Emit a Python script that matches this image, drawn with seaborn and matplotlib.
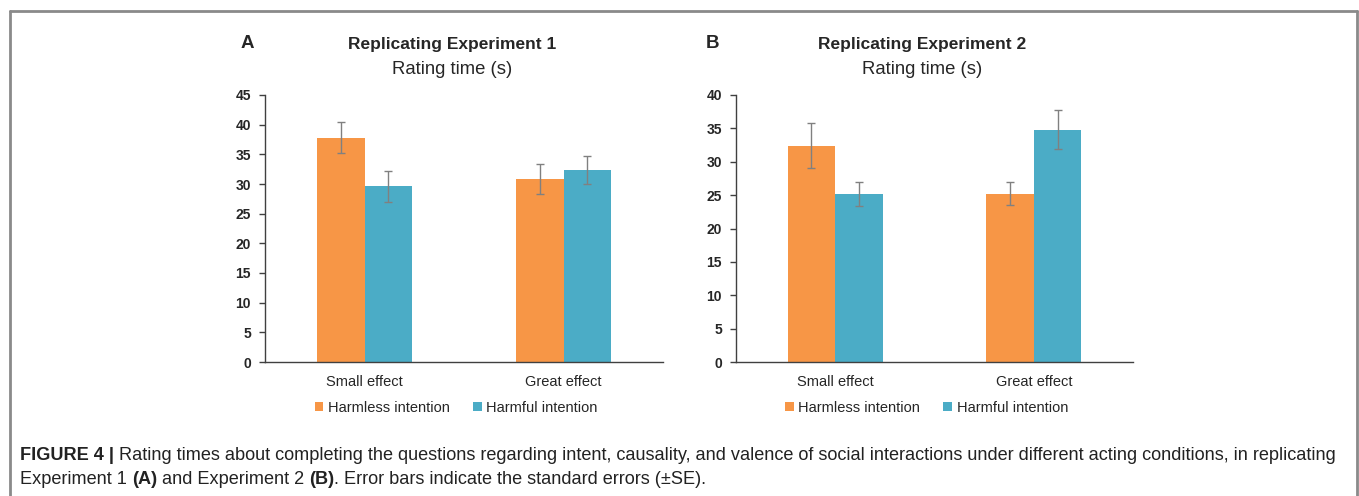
import numpy as np
import pandas as pd
import seaborn as sns
from matplotlib import pyplot as plt

# data
effects = ["Small effect", "Great effect"]
intentions = ["Harmless intention", "Harmful intention"]

exp1_harmless = [37.8, 30.8]
exp1_harmful = [29.6, 32.4]
exp1_harmless_se = [2.6, 2.5]
exp1_harmful_se = [2.55, 2.4]

exp2_harmless = [32.4, 25.2]
exp2_harmful = [25.1, 34.8]
exp2_harmless_se = [3.4, 1.7]
exp2_harmful_se = [1.8, 2.9]

colors = ["#F79646", "#4BACC6"]

sns.set_theme(style="white")
plt.rcParams["font.family"] = ["Liberation Sans", "DejaVu Sans"]

fig = plt.figure(figsize=(13.59, 4.96), dpi=100)
W, H = 1359, 496


def px(x0, y0, x1, y1):
    return [x0 / W, 1 - y1 / H, (x1 - x0) / W, (y1 - y0) / H]


def panel(rect, harmless, harmful, se1, se2, ymax, title, letter, title_x, letter_x):
    ax = fig.add_axes(rect)
    df = pd.DataFrame({
        "effect": effects * 2,
        "intention": [intentions[0]] * 2 + [intentions[1]] * 2,
        "time": harmless + harmful,
        "se": se1 + se2,
    })
    sns.barplot(data=df, x="effect", y="time", hue="intention", order=effects,
                hue_order=intentions, palette=colors, width=0.48, errorbar=None,
                saturation=1, linewidth=0, ax=ax)
    # error bars on top of each bar
    bars = [p for p in ax.patches if p.get_height() > 0]
    bars = sorted(bars, key=lambda p: p.get_x())
    order = [0, 2, 1, 3]  # small-harmless, small-harmful, great-harmless, great-harmful
    for b, i in zip(bars, order):
        ax.errorbar(b.get_x() + b.get_width() / 2, df["time"][i], yerr=df["se"][i],
                    color="#808080", capsize=3, elinewidth=1, capthick=1)
    ax.set_xlim(-0.5, 1.5)
    ax.set_ylim(0, ymax)
    ax.set_yticks(np.arange(0, ymax + 1, 5))
    ax.set_xlabel("")
    ax.set_ylabel("")
    for s in ["top", "right"]:
        ax.spines[s].set_visible(False)
    for s in ["left", "bottom"]:
        ax.spines[s].set_color("#404040")
        ax.spines[s].set_linewidth(1)
    ax.tick_params(axis="y", left=True, length=4, width=1, color="#404040",
                   labelsize=10, pad=6)
    ax.tick_params(axis="x", bottom=False, labelsize=10.5, pad=3)
    for t in ax.get_yticklabels():
        t.set_fontweight("bold")
    ax.legend(loc="center", bbox_to_anchor=(0.48, -0.172), ncol=2, frameon=False,
              fontsize=10.5, handlelength=0.6, handleheight=0.6,
              handletextpad=0.3, columnspacing=1.6)
    fig.text(title_x / W, 1 - 45 / H, title, ha="center", va="center",
             fontsize=12.5, fontweight="bold")
    fig.text(title_x / W, 1 - 70 / H, "Rating time (s)", ha="center", va="center",
             fontsize=13.3)
    fig.text(letter_x / W, 1 - 44 / H, letter, ha="center", va="center",
             fontsize=13.5, fontweight="bold")
    return ax


panel(px(265, 95, 663, 362), exp1_harmless, exp1_harmful, exp1_harmless_se,
      exp1_harmful_se, 45, "Replicating Experiment 1", "A", 452, 247)
panel(px(736, 95, 1133, 362), exp2_harmless, exp2_harmful, exp2_harmless_se,
      exp2_harmful_se, 40, "Replicating Experiment 2", "B", 922, 712)

# frame around the figure (open at the bottom)
frame = dict(color="#8a8a8a", lw=2, transform=fig.transFigure)
fig.add_artist(plt.Line2D([10 / W, 10 / W], [0, 1 - 11 / H], **frame))
fig.add_artist(plt.Line2D([10 / W, 1357 / W], [1 - 11 / H, 1 - 11 / H], **frame))
fig.add_artist(plt.Line2D([1357 / W, 1357 / W], [0, 1 - 11 / H], **frame))

# caption with bold pieces
renderer = fig.canvas.get_renderer()


def caption_line(pieces, x, y, size=13.1):
    for txt, weight in pieces:
        t = fig.text(x / W, 1 - y / H, txt, ha="left", va="center", fontsize=size,
                     fontweight=weight, color="#222222")
        bb = t.get_window_extent(renderer=renderer)
        x += bb.width


caption_line([("FIGURE 4 | ", "bold"),
              ("Rating times about completing the questions regarding intent, causality, and valence "
               "of social interactions under different acting conditions, in replicating", "normal")],
             20, 456)
caption_line([("Experiment 1 ", "normal"), ("(A)", "bold"), (" and Experiment 2 ", "normal"),
              ("(B)", "bold"), (". Error bars indicate the standard errors (\u00b1SE).", "normal")],
             20, 479)

fig.savefig("out.png", dpi=100)
